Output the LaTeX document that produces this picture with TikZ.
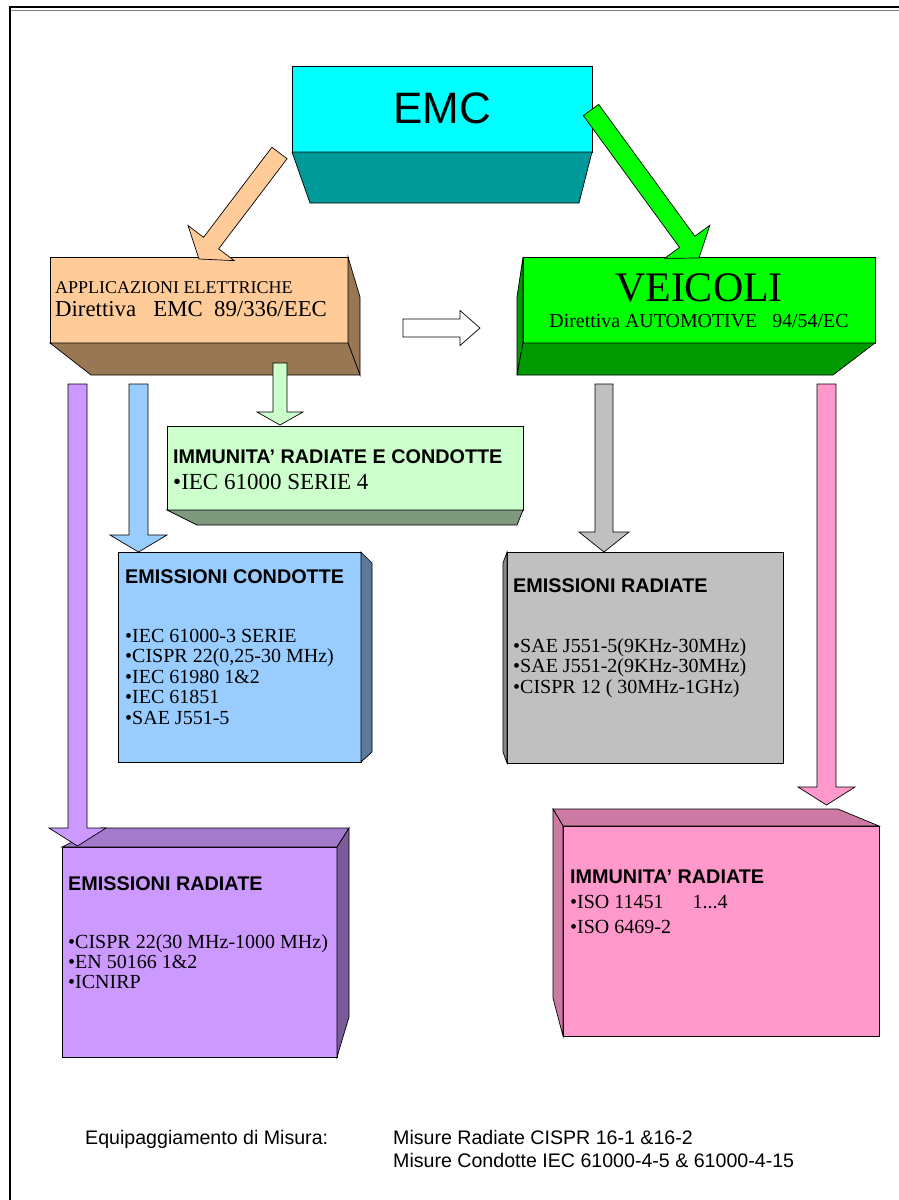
\documentclass[tikz,border=0pt]{standalone}
\usepackage{fontspec}
\setmainfont{Liberation Serif}
\setsansfont{Liberation Sans}
\usetikzlibrary{calc}

\definecolor{cyanF}{HTML}{00FFFF}
\definecolor{cyanD}{HTML}{009999}
\definecolor{peachF}{HTML}{FFCC99}
\definecolor{peachD}{HTML}{997755}
\definecolor{greenF}{HTML}{00FF00}
\definecolor{greenD}{HTML}{009900}
\definecolor{mintF}{HTML}{CCFFCC}
\definecolor{mintD}{HTML}{7F997F}
\definecolor{skyF}{HTML}{99CCFF}
\definecolor{skyD}{HTML}{5C7A99}
\definecolor{greyF}{HTML}{C0C0C0}
\definecolor{greyD}{HTML}{8A8A8A}
\definecolor{lilacF}{HTML}{CC99FF}
\definecolor{lilacT}{HTML}{A37ACC}
\definecolor{lilacD}{HTML}{7A5C99}
\definecolor{pinkF}{HTML}{FF99CC}
\definecolor{pinkD}{HTML}{CC7AA3}

\newcommand{\sbul}{\textbullet}
% stacked lines with a fixed baseline distance; baseline of the block = first line
\newcommand{\lines}[2]{\vtop{\baselineskip=#1\lineskiplimit=-20pt\lineskip=0pt #2}}

% block arrow: tail, tip, half shaft width, half head width, head length, fill
\newcommand{\blockarrow}[6]{%
  \path ($(#2)!#5!(#1)$) coordinate (ba-h);
  \filldraw[fill=#6, face]
    ($(#1)!#3!90:(#2)$) -- ($(ba-h)!#3!90:(#2)$) -- ($(ba-h)!#4!90:(#2)$)
    -- (#2) -- ($(ba-h)!#4!-90:(#2)$) -- ($(ba-h)!#3!-90:(#2)$)
    -- ($(#1)!#3!-90:(#2)$) -- cycle;}

\tikzset{
  face/.style={draw=black, line width=0.7pt, line join=miter},
  front/.style={face, anchor=north west, inner sep=0pt, outer sep=0pt},
  title/.style={anchor=base west, inner sep=0pt, font=\sffamily\bfseries\fontsize{19.8}{20}\selectfont},
  item/.style={anchor=base west, inner sep=0pt, font=\fontsize{20}{20}\selectfont},
  foot/.style={anchor=base west, inner sep=0pt, font=\sffamily\fontsize{19.6}{20}\selectfont},
}

\begin{document}
\begin{tikzpicture}[x=1pt, y=-1pt]
\useasboundingbox (0,0) rectangle (899,1200);
\fill[white] (0,0) rectangle (899,1200);

% page frame
\draw[line width=2.4pt] (10,1200) -- (10,7) -- (899,7);
\draw[gray, line width=1.3pt] (11,10.3) -- (899,10.3);

% EMC
\node[front, fill=cyanF, minimum width=300pt, minimum height=86pt] (emc) at (292,66) {};
\filldraw[fill=cyanD, face] (292,152) -- (592,152) -- (579,203) -- (310,203) -- cycle;
\node[anchor=base, inner sep=0pt, font=\sffamily\fontsize{44}{44}\selectfont] (emct) at (442,123) {EMC};

% Applicazioni elettriche
\node[front, fill=peachF, minimum width=298pt, minimum height=86pt] (app) at (50,257) {};
\filldraw[fill=peachD, face] (348,257) -- (360,297) -- (360,375) -- (348,343) -- cycle;
\filldraw[fill=peachD, face] (50,343) -- (348,343) -- (360,375) -- (91,375) -- cycle;
\node[anchor=base west, inner sep=0pt, font=\fontsize{18}{18}\selectfont] (appa) at (55,293) {APPLICAZIONI ELETTRICHE};
\node[anchor=base west, inner sep=0pt, font=\fontsize{22.8}{23}\selectfont] (appb) at (55,316) {Direttiva~~~EMC~~89/336/EEC};

% Veicoli
\node[front, fill=greenF, minimum width=352pt, minimum height=86pt] (vei) at (523,257) {};
\filldraw[fill=greenD, face] (523,257) -- (517,297) -- (517,375) -- (523,343) -- cycle;
\filldraw[fill=greenD, face] (523,343) -- (875,343) -- (833,375) -- (517,375) -- cycle;
\node[anchor=base, inner sep=0pt, font=\fontsize{42}{42}\selectfont] (veia) at (699,301) {VEICOLI};
\node[anchor=base, inner sep=0pt, font=\fontsize{19.9}{20}\selectfont] (veib) at (699,327) {Direttiva AUTOMOTIVE~~~94/54/EC};

% Immunita' radiate e condotte
\node[front, fill=mintF, minimum width=356pt, minimum height=84pt] (imm) at (167,426) {};
\filldraw[fill=mintD, face] (167,510) -- (523,510) -- (517,525) -- (197,525) -- cycle;
\node[title] (immt) at (173,463) {IMMUNITA’ RADIATE E CONDOTTE};
\node[item, font=\fontsize{23}{23}\selectfont] (imm1) at (173,489) {\sbul IEC 61000 SERIE 4};

% Emissioni condotte
\node[front, fill=skyF, minimum width=243pt, minimum height=210pt] (cond) at (118,552) {};
\filldraw[fill=skyD, face] (361,552) -- (372,563) -- (372,752) -- (361,762) -- cycle;
\node[title] (condt) at (125,583) {EMISSIONI CONDOTTE};
\node[item] (condl) at (125,642) {\lines{20.5pt}{%
  \hbox{\sbul IEC 61000-3 SERIE}
  \hbox{\sbul CISPR 22(0,25-30 MHz)}
  \hbox{\sbul IEC 61980 1\&2}
  \hbox{\sbul IEC 61851}
  \hbox{\sbul SAE J551-5}}};

% Emissioni radiate (veicoli)
\node[front, fill=greyF, minimum width=276pt, minimum height=211pt] (rad) at (507,552) {};
\filldraw[fill=greyD, face] (507,552) -- (503,563) -- (503,752) -- (507,763) -- cycle;
\node[title] (radt) at (513,592) {EMISSIONI RADIATE};
\node[item] (radl) at (513,652) {\lines{20.5pt}{%
  \hbox{\sbul SAE J551-5(9KHz-30MHz)}
  \hbox{\sbul SAE J551-2(9KHz-30MHz)}
  \hbox{\sbul CISPR 12 ( 30MHz-1GHz)}}};

% Emissioni radiate (applicazioni)
\node[front, fill=lilacF, minimum width=275pt, minimum height=210pt] (lil) at (62,847) {};
\filldraw[fill=lilacT, face] (62,847) -- (337,847) -- (349,828) -- (101,828) -- cycle;
\filldraw[fill=lilacD, face] (337,847) -- (349,828) -- (349,1017) -- (337,1057) -- cycle;
\node[title] (lilt) at (68,890) {EMISSIONI RADIATE};
\node[item] (lill) at (68,948) {\lines{20pt}{%
  \hbox{\sbul CISPR 22(30 MHz-1000 MHz)}
  \hbox{\sbul EN 50166 1\&2}
  \hbox{\sbul ICNIRP}}};

% Immunita' radiate (veicoli)
\node[front, fill=pinkF, minimum width=316pt, minimum height=210pt] (pnk) at (563,826) {};
\filldraw[fill=pinkD, face] (563,826) -- (879,826) -- (838,809) -- (553,809) -- cycle;
\filldraw[fill=pinkD, face] (563,826) -- (553,809) -- (553,998) -- (563,1036) -- cycle;
\node[title] (pnkt) at (570,883) {IMMUNITA’ RADIATE};
\node[item] (pnk1) at (570,908) {\sbul ISO 11451\hspace{29pt}1...4};
\node[item] (pnk2) at (570,933) {\sbul ISO 6469-2};

% connector ends
\coordinate (emcL) at (279.5,153);  \coordinate (appIn) at (199,259);
\coordinate (emcR) at (591,110);    \coordinate (veiIn) at (699,258);
\coordinate (appR) at (403,328);    \coordinate (veiL) at (480,328);
\coordinate (appB1) at (77.5,384);  \coordinate (lilIn) at (77.5,846);
\coordinate (appB2) at (138.5,384); \coordinate (condIn) at (138.5,552);
\coordinate (appB3) at (280,363);   \coordinate (immIn) at (280,425);
\coordinate (veiB1) at (604,384);   \coordinate (radIn) at (604,552);
\coordinate (veiB2) at (826.5,384); \coordinate (pnkIn) at (826.5,805);

% block arrows
\blockarrow{emcL}{appIn}{9.5pt}{29pt}{20pt}{peachF}
\blockarrow{emcR}{veiIn}{9.5pt}{28pt}{20pt}{greenF}
\blockarrow{appR}{veiL}{9pt}{17.5pt}{20pt}{white}
\blockarrow{appB1}{lilIn}{9.5pt}{28.5pt}{18pt}{lilacF}
\blockarrow{appB2}{condIn}{9.5pt}{28.5pt}{17pt}{skyF}
\blockarrow{appB3}{immIn}{7pt}{23pt}{13pt}{mintF}
\blockarrow{veiB1}{radIn}{9pt}{25pt}{20pt}{greyF}
\blockarrow{veiB2}{pnkIn}{9.5pt}{28.5pt}{18pt}{pinkF}

% measuring equipment
\node[foot] (eqa) at (85,1144) {Equipaggiamento di Misura:};
\node[foot] (eqb) at (393,1144) {Misure Radiate CISPR 16-1 \&16-2};
\node[foot] (eqc) at (393,1167) {Misure Condotte IEC 61000-4-5 \& 61000-4-15};
\end{tikzpicture}
\end{document}
